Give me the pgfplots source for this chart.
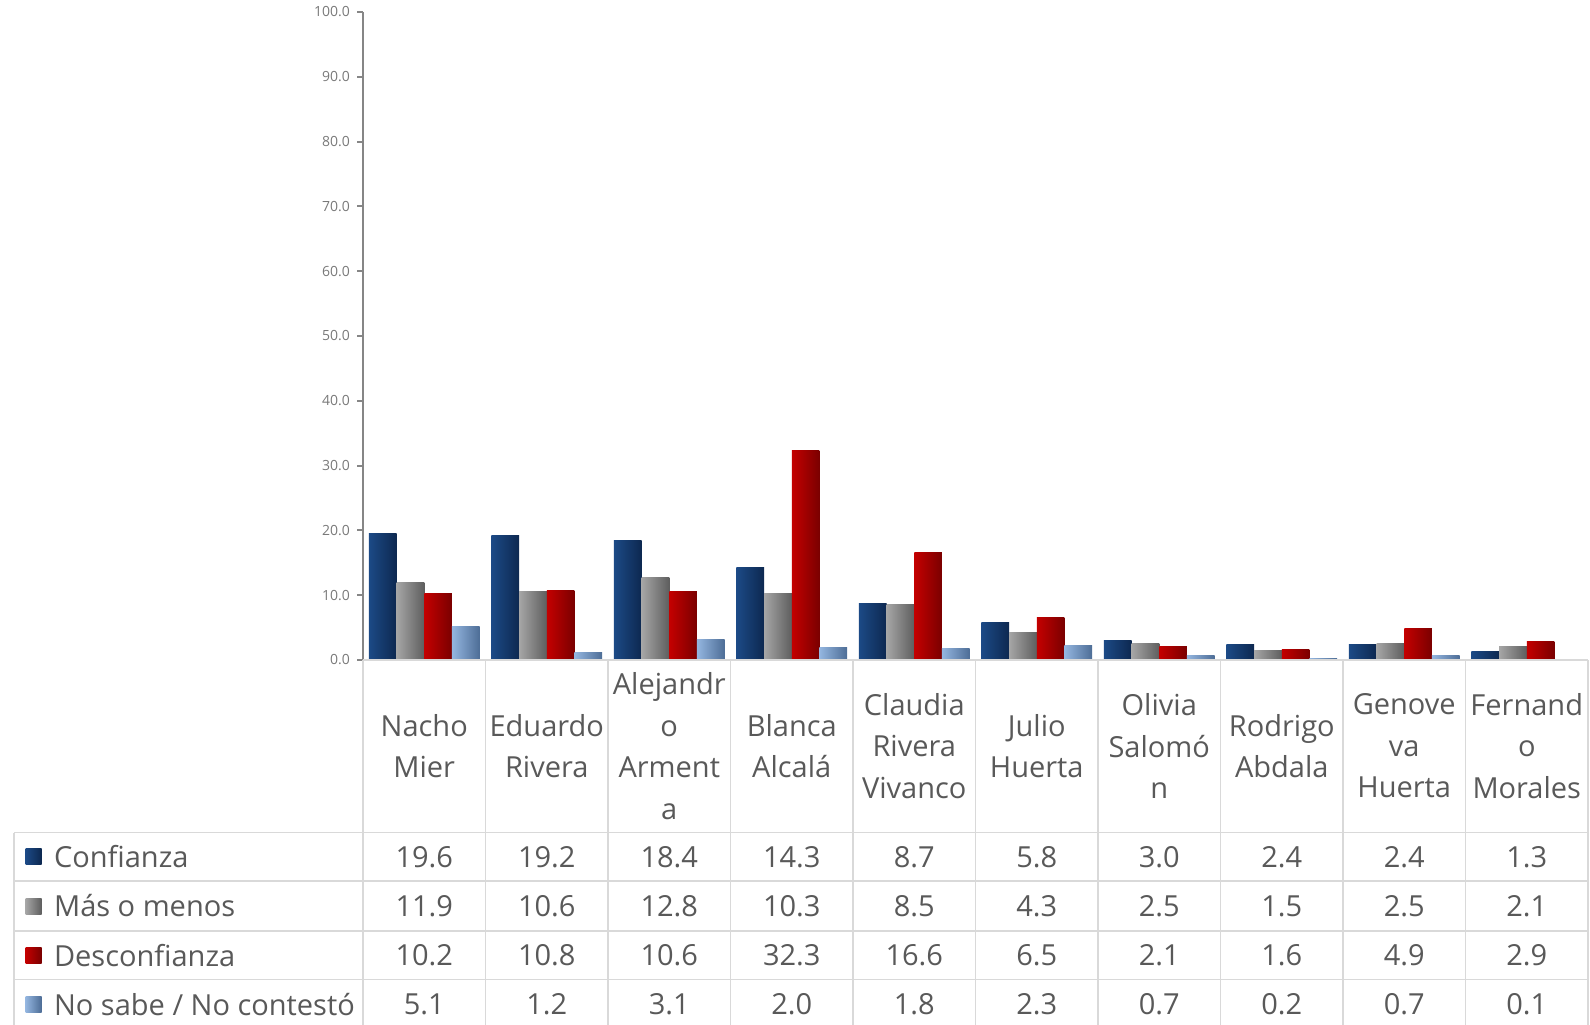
\documentclass[border=0pt]{standalone}
\usepackage{pgfplots}
\usepackage{pgfplotstable}
\pgfplotsset{compat=1.18}
\usepackage{fontspec}
\setmainfont{Open Sans}

\definecolor{confA}{HTML}{1C4A86}
\definecolor{confB}{HTML}{0D2850}
\definecolor{masA}{HTML}{A6A6A6}
\definecolor{masB}{HTML}{5E5E5E}
\definecolor{desA}{HTML}{C40000}
\definecolor{desB}{HTML}{7A0000}
\definecolor{nsA}{HTML}{94B6E0}
\definecolor{nsB}{HTML}{4D6D96}
\definecolor{gridc}{HTML}{D9D9D9}
\definecolor{txt}{HTML}{595959}
\definecolor{axc}{HTML}{868686}

% x: candidate index (Nacho Mier ... Fernando Morales)
\pgfplotstableread{
x conf mas des ns
0 19.6 11.9 10.2 5.1
1 19.2 10.6 10.8 1.2
2 18.4 12.8 10.6 3.1
3 14.3 10.3 32.3 2.0
4 8.7  8.5  16.6 1.8
5 5.8  4.3  6.5  2.3
6 3.0  2.5  2.1  0.7
7 2.4  1.5  1.6  0.2
8 2.4  2.5  4.9  0.7
9 1.3  2.1  2.9  0.1
}\data

\begin{document}
\begin{tikzpicture}
\clip (0,0) rectangle (795pt,-512pt);
\begin{axis}[
    at={(181.5pt,-330pt)}, anchor=south west,
    scale only axis, width=612.5pt, height=324pt,
    xmin=-0.5, xmax=9.5, ymin=0, ymax=100,
    axis x line=none,
    axis y line*=left,
    y axis line style={axc, line width=1pt},
    ytick={0,10,...,100},
    tick pos=left, tick align=outside,
    major tick length=3pt,
    y tick style={axc, line width=1pt},
    yticklabel style={font=\fontsize{7}{8}\selectfont, text=axc!90!black,
        /pgf/number format/fixed, /pgf/number format/fixed zerofill,
        /pgf/number format/precision=1},
    /pgf/number format/assume math mode=true,
    clip=false,
    every axis plot/.append style={ybar, bar width=13.84pt, draw=none},
]
% one plot per bar so that every bar gets its own gradient
\pgfplotsinvokeforeach{0,...,9}{
  \addplot[bar shift=-20.76pt, left color=confA, right color=confB,
      restrict x to domain=#1:#1] table[x=x, y=conf] {\data};
  \addplot[bar shift=-6.92pt, left color=masA, right color=masB,
      restrict x to domain=#1:#1] table[x=x, y=mas] {\data};
  \addplot[bar shift=6.92pt, left color=desA, right color=desB,
      restrict x to domain=#1:#1] table[x=x, y=des] {\data};
  \addplot[bar shift=20.76pt, left color=nsA, right color=nsB,
      restrict x to domain=#1:#1] table[x=x, y=ns] {\data};
}
\end{axis}

% data table (1 unit = 1 px of the reference)
\begin{scope}[x=0.5pt, y=-0.5pt, every node/.style={text=txt, font=\fontsize{14.5}{20.75}\selectfont}]
  \draw[gridc, line width=0.75pt] (363,660) -- (1588,660);
  \foreach \yy in {832.5,881,931,979.5}
    \draw[gridc, line width=0.75pt] (14,\yy) -- (1588,\yy);
  \foreach \k in {0,...,10}
    \draw[gridc, line width=0.75pt] ({363+122.5*\k},660) -- ({363+122.5*\k},1040);
  \draw[gridc, line width=0.75pt] (14,832.5) -- (14,1040);

  \foreach \name [count=\i from 0] in {
      {Nacho\\Mier}, {Eduardo\\Rivera}, {Alejandr\\o\\Arment\\a}, {Blanca\\Alcalá},
      {Claudia\\Rivera\\Vivanco}, {Julio\\Huerta}, {Olivia\\Salomó\\n},
      {Rodrigo\\Abdala}, {Genove\\va\\Huerta}, {Fernand\\o\\Morales}}
    \node[align=center] at ({424.25+122.5*\i},746) {\name};

  \foreach \v [count=\i from 0] in {19.6,19.2,18.4,14.3,8.7,5.8,3.0,2.4,2.4,1.3}
    \node at ({424.25+122.5*\i},856.75) {\v};
  \foreach \v [count=\i from 0] in {11.9,10.6,12.8,10.3,8.5,4.3,2.5,1.5,2.5,2.1}
    \node at ({424.25+122.5*\i},906) {\v};
  \foreach \v [count=\i from 0] in {10.2,10.8,10.6,32.3,16.6,6.5,2.1,1.6,4.9,2.9}
    \node at ({424.25+122.5*\i},955.25) {\v};
  \foreach \v [count=\i from 0] in {5.1,1.2,3.1,2.0,1.8,2.3,0.7,0.2,0.7,0.1}
    \node at ({424.25+122.5*\i},1004.5) {\v};

  \shade[left color=confA, right color=confB] (25.5,848.75) rectangle (41.5,864.75);
  \node[anchor=west] at (47,856.75) {Confianza};
  \shade[left color=masA, right color=masB] (25.5,898) rectangle (41.5,914);
  \node[anchor=west] at (47,906) {Más o menos};
  \shade[left color=desA, right color=desB] (25.5,947.25) rectangle (41.5,963.25);
  \node[anchor=west] at (47,955.25) {Desconfianza};
  \shade[left color=nsA, right color=nsB] (25.5,996.5) rectangle (41.5,1012.5);
  \node[anchor=west] at (47,1004.5) {No sabe / No contestó};
\end{scope}
\end{tikzpicture}
\end{document}
